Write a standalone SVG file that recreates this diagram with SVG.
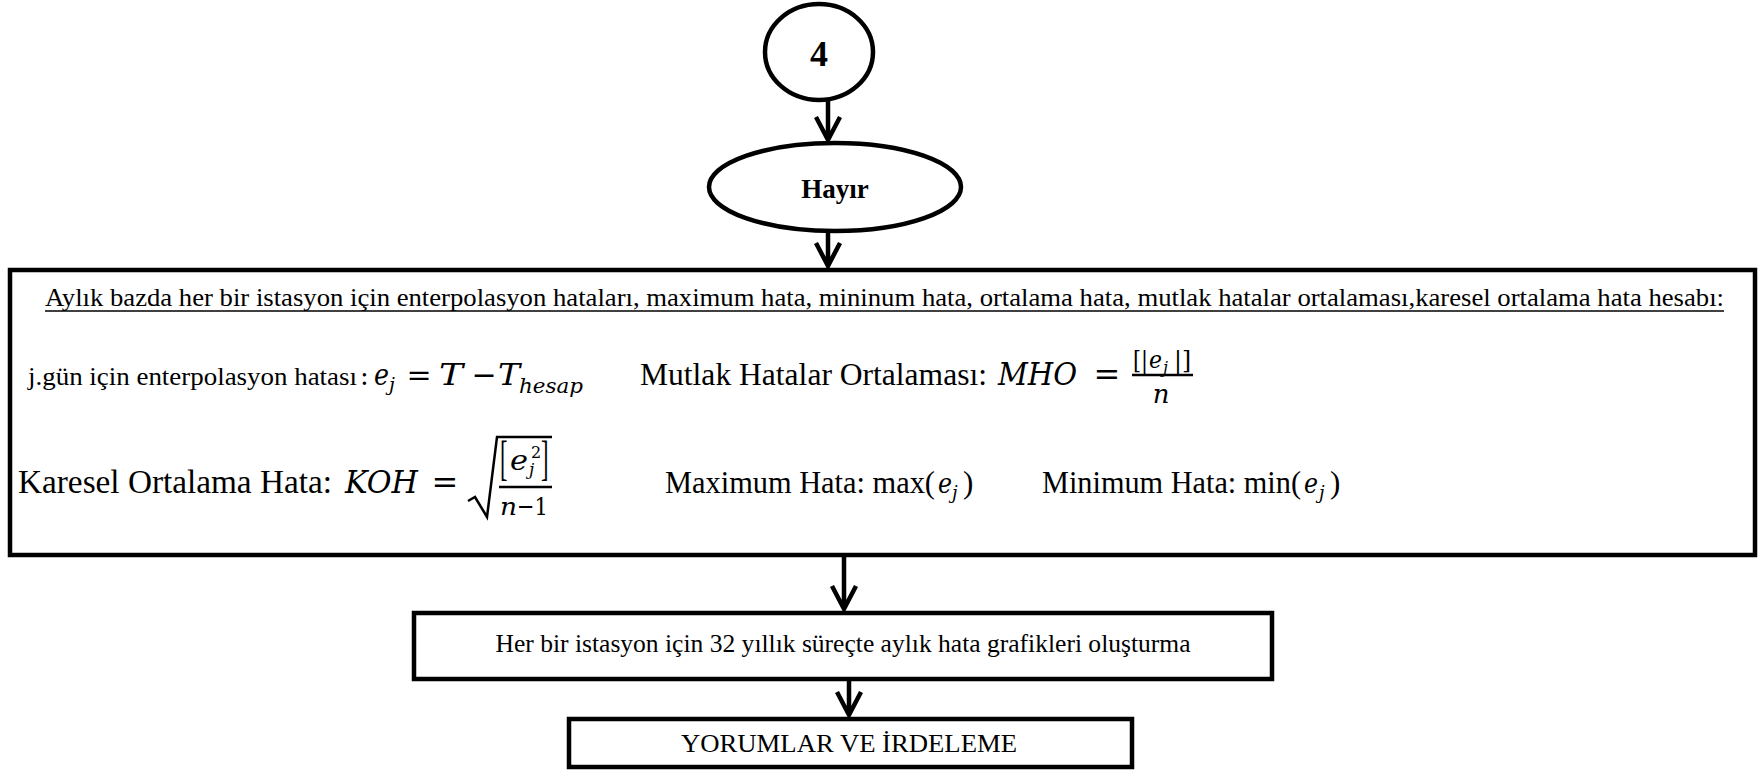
<svg xmlns="http://www.w3.org/2000/svg" width="1759" height="771" viewBox="0 0 1759 771">
  <style>
    .shape { fill: #fff; stroke: #000; stroke-width: 4.5; }
    .conn { fill: none; stroke: #000; stroke-width: 4.5; stroke-linejoin: miter; }
    .t { font-family: "Liberation Serif", "Times New Roman", serif; fill: #000; }
    .b { font-weight: bold; }
    .m { font-family: "DejaVu Serif", "Liberation Serif", serif; font-style: italic; fill: #000; }
    .mu { font-family: "DejaVu Serif", "Liberation Serif", serif; fill: #000; }
    .rule { stroke: #000; stroke-width: 2.5; fill: none; }
  </style>

  <!-- connectors -->
  <g id="connectors">
    <path class="conn" d="M828 101 V140 M816 117 L828 140 L840 117"/>
    <path class="conn" d="M828 231 V266 M816 243 L828 266 L840 243"/>
    <path class="conn" d="M844 557 V609 M832 586 L844 609 L856 586"/>
    <path class="conn" d="M849 681 V715 M837 692 L849 715 L861 692"/>
  </g>

  <!-- connector node 4 -->
  <g id="node-4">
    <ellipse class="shape" cx="819" cy="52" rx="54" ry="48"/>
    <text class="t b" x="819" y="66" font-size="36" text-anchor="middle">4</text>
  </g>

  <!-- decision branch -->
  <g id="node-hayir">
    <ellipse class="shape" cx="835" cy="187" rx="126" ry="44"/>
    <text class="t b" x="835" y="198" font-size="27" text-anchor="middle">Hayır</text>
  </g>

  <!-- error computation block -->
  <g id="node-errors">
    <rect class="shape" x="10" y="270" width="1745" height="285" stroke-width="5"/>
    <text class="t" x="45" y="306" font-size="25" textLength="1679" lengthAdjust="spacingAndGlyphs">Aylık bazda her bir istasyon için enterpolasyon hataları, maximum hata, mininum hata, ortalama hata, mutlak hatalar ortalaması,karesel ortalama hata hesabı:</text>
    <line x1="45" y1="311" x2="1724" y2="311" stroke="#000" stroke-width="1.6"/>

    <!-- daily interpolation error: e_j = T - T_hesap -->
    <text class="t" x="28" y="385" font-size="25" textLength="329" lengthAdjust="spacingAndGlyphs">j.gün için enterpolasyon hatası</text>
    <text class="mu" x="360" y="385" font-size="26">:</text>
    <text class="m" x="374" y="385" font-size="30" textLength="15" lengthAdjust="spacingAndGlyphs">e</text>
    <text class="m" x="389" y="391" font-size="19">j</text>
    <text class="mu" x="419" y="385" font-size="30" text-anchor="middle">=</text>
    <text class="m" x="439" y="385" font-size="30" textLength="24" lengthAdjust="spacingAndGlyphs">T</text>
    <text class="mu" x="484" y="385" font-size="30" text-anchor="middle">−</text>
    <text class="m" x="498" y="385" font-size="30" textLength="22" lengthAdjust="spacingAndGlyphs">T</text>
    <text class="m" x="519" y="393" font-size="21" textLength="64" lengthAdjust="spacingAndGlyphs">hesap</text>

    <!-- mean absolute error: MHO = [|e_j|] / n -->
    <text class="t" x="640" y="385" font-size="31" textLength="347" lengthAdjust="spacingAndGlyphs">Mutlak Hatalar Ortalaması:</text>
    <text class="m" x="998" y="385" font-size="32" textLength="79" lengthAdjust="spacingAndGlyphs">MHO</text>
    <text class="mu" x="1107" y="385" font-size="32" text-anchor="middle">=</text>
    <text class="mu" x="1133" y="368" font-size="24" textLength="15" lengthAdjust="spacingAndGlyphs">[|</text>
    <text class="m" x="1149" y="368" font-size="24" textLength="13" lengthAdjust="spacingAndGlyphs">e</text>
    <text class="m" x="1163" y="373" font-size="16">j</text>
    <text class="mu" x="1174" y="368" font-size="24" textLength="17" lengthAdjust="spacingAndGlyphs">|]</text>
    <line class="rule" x1="1132" y1="375" x2="1193" y2="375"/>
    <text class="m" x="1161" y="403" font-size="26" text-anchor="middle">n</text>

    <!-- root mean square error: KOH = sqrt([e_j^2] / (n-1)) -->
    <text class="t" x="18" y="493" font-size="33" textLength="314" lengthAdjust="spacingAndGlyphs">Karesel Ortalama Hata:</text>
    <text class="m" x="345" y="493" font-size="32" textLength="73" lengthAdjust="spacingAndGlyphs">KOH</text>
    <text class="mu" x="445" y="493" font-size="32" text-anchor="middle">=</text>
    <path class="rule" d="M468 501 L475 497 L487 517 L497 437 H552"/>
    <!-- tall brackets: scaled glyphs -->
    <text class="t" transform="translate(500 474) scale(0.75 1.6)" font-size="30">[</text>
    <text class="m" x="510" y="470" font-size="28" textLength="18" lengthAdjust="spacingAndGlyphs">e</text>
    <text class="mu" x="531" y="458" font-size="16">2</text>
    <text class="m" x="529" y="475" font-size="17">j</text>
    <text class="t" transform="translate(541 474) scale(0.75 1.6)" font-size="30">]</text>
    <line class="rule" x1="499" y1="487" x2="552" y2="487"/>
    <text class="m" x="500" y="515" font-size="25" textLength="17" lengthAdjust="spacingAndGlyphs">n</text>
    <text class="mu" x="517" y="515" font-size="25" textLength="31" lengthAdjust="spacingAndGlyphs">−1</text>

    <!-- extremes -->
    <text class="t" x="665" y="493" font-size="31" textLength="270" lengthAdjust="spacingAndGlyphs">Maximum Hata: max(</text>
    <text class="m" x="938" y="493" font-size="28" textLength="14" lengthAdjust="spacingAndGlyphs">e</text>
    <text class="m" x="952" y="499" font-size="18">j</text>
    <text class="t" x="963" y="493" font-size="31">)</text>

    <text class="t" x="1042" y="493" font-size="31" textLength="259" lengthAdjust="spacingAndGlyphs">Minimum Hata: min(</text>
    <text class="m" x="1304" y="493" font-size="28" textLength="14" lengthAdjust="spacingAndGlyphs">e</text>
    <text class="m" x="1319" y="499" font-size="18">j</text>
    <text class="t" x="1330" y="493" font-size="31">)</text>
  </g>

  <!-- monthly error charts -->
  <g id="node-charts">
    <rect class="shape" x="414" y="613" width="858" height="66" stroke-width="5"/>
    <text class="t" x="843" y="652" font-size="25" text-anchor="middle" textLength="695" lengthAdjust="spacingAndGlyphs">Her bir istasyon için 32 yıllık süreçte aylık hata grafikleri oluşturma</text>
  </g>

  <!-- comments and discussion -->
  <g id="node-comments">
    <rect class="shape" x="569" y="719" width="563" height="48" stroke-width="5"/>
    <text class="t" x="849" y="752" font-size="26" text-anchor="middle" textLength="336" lengthAdjust="spacingAndGlyphs">YORUMLAR VE İRDELEME</text>
  </g>
</svg>
